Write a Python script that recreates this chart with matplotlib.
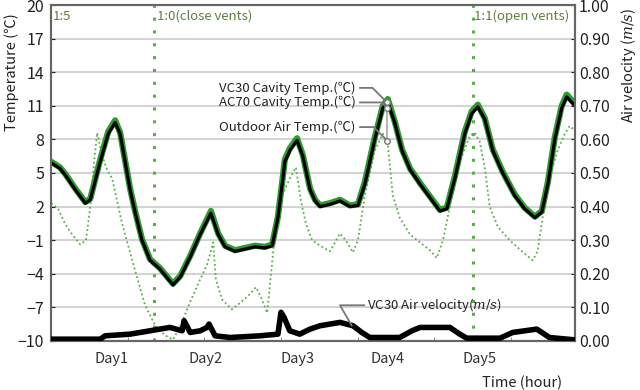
import matplotlib
matplotlib.use("Agg")
import matplotlib.pyplot as plt
import numpy as np

plt.rcParams['font.family'] = ['Noto Sans CJK KR', 'DejaVu Sans']
plt.rcParams['mathtext.fontset'] = 'dejavuserif'

# cavity temperatures (hour, degC)
cav_hours = [0, 2.3, 3.7, 6.3, 8.9, 10.2, 12.8, 14.9, 16.7, 18.0, 19.3, 20.6, 21.9,
             23.7, 25.8, 28.4, 31.8, 33.7, 36.3, 38.9, 41.7, 43.6, 45.4, 48.0, 50.6,
             53.2, 55.8, 57.7, 59.2, 60.5, 61.0, 62.3, 64.2, 65.7, 67.6, 68.9, 70.2,
             72.8, 75.4, 78.0, 80.1, 81.9, 84.5, 86.6, 87.9, 89.7, 91.6, 93.7, 96.3,
             98.9, 101.5, 103.3, 105.4, 108.0, 109.8, 111.4, 113.2, 115.3, 117.9,
             121.0, 123.6, 126.3, 128.1, 129.7, 131.5, 133.3, 134.6, 136.7]
vc30_temp = [5.9, 5.4, 4.8, 3.5, 2.3, 2.6, 6.0, 8.5, 9.5, 8.5, 6.0, 3.5, 1.5,
             -1.0, -2.8, -3.6, -5.0, -4.3, -2.5, -0.5, 1.4, -0.5, -1.6, -2.0, -1.8,
             -1.6, -1.7, -1.5, 1.0, 4.5, 6.0, 7.0, 7.9, 6.5, 3.5, 2.5, 2.0,
             2.2, 2.5, 2.0, 2.1, 4.0, 8.0, 10.8, 11.3, 9.5, 7.0, 5.3, 4.0,
             2.8, 1.6, 1.8, 4.5, 8.5, 10.3, 10.9, 9.8, 7.0, 5.0,
             3.0, 1.8, 1.0, 1.5, 4.0, 8.0, 10.8, 11.8, 11.0]
ac70_temp = [6.0, 5.5, 4.9, 3.6, 2.4, 2.7, 6.2, 8.7, 9.7, 8.6, 6.1, 3.6, 1.6,
             -0.9, -2.7, -3.5, -4.9, -4.2, -2.4, -0.4, 1.6, -0.4, -1.5, -1.9, -1.7,
             -1.5, -1.6, -1.4, 1.1, 4.7, 6.2, 7.2, 8.1, 6.6, 3.6, 2.6, 2.1,
             2.3, 2.6, 2.1, 2.2, 4.2, 8.2, 11.0, 11.6, 9.6, 7.1, 5.4, 4.1,
             2.9, 1.7, 1.9, 4.7, 8.7, 10.5, 11.1, 9.9, 7.1, 5.1,
             3.1, 1.9, 1.1, 1.6, 4.2, 8.2, 11.0, 12.0, 11.2]

# outdoor air temperature (hour, degC)
out_hours = [0, 1.8, 3.7, 5.5, 7.6, 9.1, 10.2, 11.2, 12.0, 13.0, 14.3, 15.9, 17.2,
             18.5, 20.1, 21.9, 24.5, 27.1, 29.7, 31.8, 33.7, 36.3, 38.9, 40.7, 42.3,
             43.0, 44.6, 47.2, 49.3, 51.4, 53.5, 55.0, 56.4, 57.4, 58.7, 60.3, 62.3,
             63.9, 65.2, 66.5, 68.1, 70.2, 72.8, 75.4, 76.9, 78.8, 80.1, 81.9, 84.5,
             86.6, 87.9, 89.2, 91.0, 93.7, 96.3, 98.9, 100.7, 102.3, 104.1, 106.7,
             109.3, 110.6, 111.9, 113.2, 114.5, 116.6, 119.7, 122.9, 125.7, 127.0,
             128.3, 130.1, 132.2, 134.1, 135.4, 136.7]
outdoor_temp = [2.3, 1.8, 0.4, -0.5, -1.4, -1.0, 2.0, 6.0, 8.6, 7.0, 5.5, 4.5, 2.5,
                0.5, -1.5, -3.7, -6.8, -8.6, -9.5, -9.9, -8.7, -6.5, -4.5, -3.2, -1.2,
                -4.5, -6.3, -7.2, -6.6, -6.0, -5.2, -6.3, -7.5, -4.0, 0.5, 3.0, 4.5,
                5.5, 2.5, 0.5, -1.0, -1.5, -2.0, -0.4, -1.0, -2.1, -1.0, 3.0, 7.0,
                8.5, 7.5, 3.0, 1.0, -0.5, -1.2, -1.9, -2.6, -1.0, 2.0, 6.0,
                8.3, 8.6, 7.8, 5.5, 2.0, 0.2, -1.0, -2.0, -2.8, -2.0,
                1.0, 4.5, 7.0, 8.5, 9.2, 8.8]

# VC30 air velocity (hour, m/s)
vel_hours = [0, 12.8, 14.1, 20.6, 25.8, 28.4, 31.0, 34.2, 34.7, 36.3, 38.9, 40.7,
             41.2, 42.8, 46.7, 54.5, 59.2, 60.0, 60.8, 62.3, 64.9, 67.6, 70.2,
             75.4, 78.8, 81.1, 83.2, 91.0, 94.2, 96.3, 104.1, 106.7, 108.5,
             117.2, 120.5, 126.8, 130.1, 136.7]
vc30_vel = [0.005, 0.005, 0.015, 0.02, 0.03, 0.035, 0.04, 0.03, 0.06, 0.025, 0.03, 0.04,
            0.05, 0.015, 0.01, 0.015, 0.02, 0.085, 0.07, 0.03, 0.02, 0.035, 0.045,
            0.055, 0.045, 0.025, 0.01, 0.01, 0.03, 0.04, 0.04, 0.02, 0.008,
            0.008, 0.025, 0.035, 0.01, 0.003]

day_pos = [15.7, 40.2, 64.2, 87.9, 111.9]
day_labels = ['Day1', 'Day2', 'Day3', 'Day4', 'Day5']
vent_hours = [26.9, 110.1]
peak_hour = 87.7
peak_vals = [11.3, 10.8, 7.9]

olive = '#5f7f3f'
green = '#2e9a2e'
lgreen = '#5aae4a'

fig = plt.figure(figsize=(6.4, 3.9), dpi=100)
ax = fig.add_axes([0.080, 0.126, 0.818, 0.861])
ax2 = ax.twinx()

ax.set_ylim(-10, 20)
ax.set_xlim(0, 136.7)
ax.set_yticks(np.arange(-10, 21, 3))
ax.yaxis.grid(True, color='#d4d4d4', lw=1.5)
ax.set_axisbelow(True)

for v in vent_hours:
    ax.axvline(v, color=lgreen, ls=(0, (1, 3.2)), lw=2.2, zorder=2)

ax.plot(out_hours, outdoor_temp, color=lgreen, ls=(0, (1, 1.5)), lw=1.3, zorder=3)
ax.plot(cav_hours, ac70_temp, color=green, lw=4.5, zorder=4,
        solid_capstyle='round', solid_joinstyle='round')
ax.plot(cav_hours, vc30_temp, color='black', lw=2.3, zorder=5,
        solid_capstyle='round', solid_joinstyle='round')

ax2.set_ylim(0, 1.0)
ax2.set_yticks(np.arange(0, 1.01, 0.1))
ax2.set_yticklabels(['%.2f' % t for t in np.arange(0, 1.01, 0.1)])
ax2.plot(vel_hours, vc30_vel, color='black', lw=4, zorder=6,
         solid_capstyle='round', solid_joinstyle='round')

ax.set_xticks(day_pos)
ax.set_xticklabels(day_labels)
ax.set_xticks(np.arange(20, 136, 20), minor=True)
ax.tick_params(axis='x', which='major', length=0, labelsize=10.5, pad=8, colors='#333333')
ax.tick_params(axis='x', which='minor', direction='in', length=3, color='#777777')
ax.tick_params(axis='y', direction='in', length=3, labelsize=11.5, colors='#222222', pad=5)
ax2.tick_params(axis='y', direction='in', length=3, labelsize=11.5, colors='#222222', pad=3)

for a in (ax, ax2):
    for s in a.spines.values():
        s.set_color('#666666')
        s.set_linewidth(1.5)

ax.set_ylabel('Temperature (℃)', fontsize=10.5, color='#222222')
ax.yaxis.set_label_coords(-0.062, 0.80)
ax2.set_ylabel('Air velocity ($m/s$)', fontsize=10.5, color='#222222')
ax2.yaxis.set_label_coords(1.085, 0.82)

ax.text(0.5, 19.0, '1:5', color=olive, fontsize=9.5, va='center')
ax.text(vent_hours[0] + 0.6, 19.0, '1:0(close vents)', color=olive, fontsize=9.5, va='center')
ax.text(vent_hours[1] + 0.4, 19.0, '1:1(open vents)', color=olive, fontsize=9.5,
        va='center', clip_on=False)

gray = '#777777'
labels = ['VC30 Cavity Temp.(℃)', 'AC70 Cavity Temp.(℃)', 'Outdoor Air Temp.(℃)']
text_y = [12.6, 11.3, 9.1]
for lab, ty, pv in zip(labels, text_y, peak_vals):
    ax.annotate(lab, xy=(peak_hour, pv), xytext=(79.5, ty), ha='right', va='center',
                fontsize=9.5, color='#222222', zorder=8,
                arrowprops=dict(arrowstyle='-', color=gray, lw=1.3, shrinkA=1, shrinkB=0,
                                connectionstyle='angle,angleA=0,angleB=135,rad=0'))
ax.plot([peak_hour] * 3, peak_vals, color='#aaaaaa', lw=1.2, marker='o', ms=4,
        mfc='white', mec=gray, zorder=8)

ax2.annotate('VC30 Air velocity($m/s$)', xy=(78.5, 0.045), xytext=(82.5, 0.106),
             ha='left', va='center', fontsize=9.5, color='#222222', zorder=8,
             arrowprops=dict(arrowstyle='-', color=gray, lw=1.3, shrinkA=0, shrinkB=0,
                             connectionstyle='angle,angleA=0,angleB=120,rad=0'))

fig.text(0.815, 0.036, 'Time (hour)', ha='center', va='top', fontsize=10.5, color='#222222')

fig.savefig('out.png', dpi=100)
